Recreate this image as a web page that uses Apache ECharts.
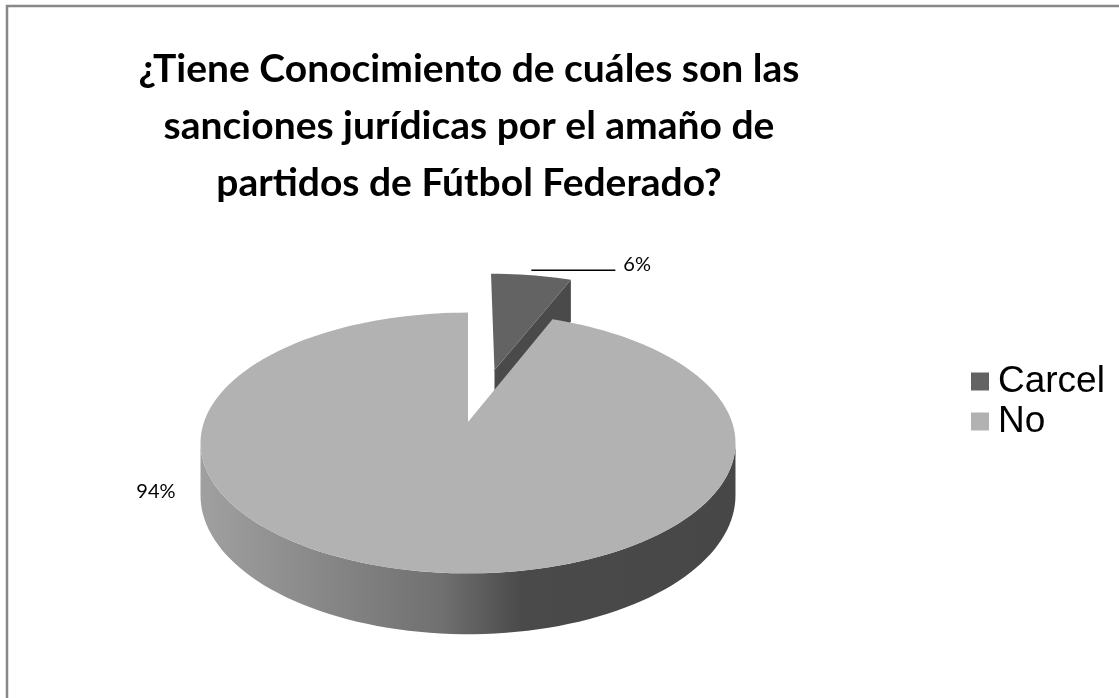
<!DOCTYPE html>
<html>
<head>
<meta charset="utf-8">
<script src="https://cdn.jsdelivr.net/npm/echarts@6/dist/echarts.min.js"></script>
<style>
  html, body { margin: 0; padding: 0; background: #fff; }
  #main { width: 1119px; height: 698px; }
</style>
</head>
<body>
<div id="main"></div>
<script>
// datos del grafico
const titleLines = [
  '¿Tiene Conocimiento de cuáles son las',
  'sanciones jurídicas por el amaño de',
  'partidos de Fútbol Federado?'
];
const categories = ['Carcel', 'No'];
const values = [6, 94];

// estilo
const topColors = ['#636363', '#b2b2b2'];
const sideColors = ['#4a4a4a', '#6e6e6e'];
const OX = 468, OY = 422;          // vertice del sector grande
const RX = 264, RY = 127, DEPTH = 51, K = 0.161;  // K: perspectiva
const explode = [0.45, 0];

const total = values.reduce((a, b) => a + b, 0);
const rad = d => d * Math.PI / 180;
// punto del plano (u, v) a pantalla, h = profundidad hacia abajo
function proj(u, v, h) {
  const w = 1 + K * v;
  return [OX + RX * u / w, OY - RY * v / w + (h || 0) / w];
}
const wallFrom = Math.acos(-K) * 180 / Math.PI;   // ~99°
const wallTo = 360 - wallFrom;

function sliceRenderer(idx) {
  return function (params, api) {
    let start = 0;
    for (let k = 0; k < idx; k++) start += values[k];
    const a0 = start / total * 360;
    const a1 = a0 + api.value(0) / total * 360;
    const mid = (a0 + a1) / 2;
    const du = explode[idx] * Math.sin(rad(mid + 3));
    const dv = explode[idx] * Math.cos(rad(mid + 3));
    const pt = (deg, h) => proj(du + Math.sin(rad(deg)), dv + Math.cos(rad(deg)), h);
    const arc = (from, to, h) => {
      const pts = [];
      const n = Math.max(2, Math.ceil(Math.abs(to - from) / 2));
      for (let j = 0; j <= n; j++) pts.push(pt(from + (to - from) * j / n, h));
      return pts;
    };
    const cTop = proj(du, dv, 0);
    const cBot = proj(du, dv, DEPTH);
    const children = [];

    // caras radiales
    const e = a1 % 360;
    if (e > 0 && e < 180) {
      children.push({
        type: 'polygon',
        shape: { points: [cTop, pt(a1, 0), pt(a1, DEPTH), cBot] },
        style: { fill: sideColors[idx] }
      });
    }
    if (a0 > 180 && a0 < 360) {
      children.push({
        type: 'polygon',
        shape: { points: [cTop, pt(a0, 0), pt(a0, DEPTH), cBot] },
        style: { fill: sideColors[idx] }
      });
    }
    // pared exterior frontal
    const f0 = Math.max(a0, wallFrom), f1 = Math.min(a1, wallTo);
    if (f1 > f0) {
      children.push({
        type: 'polygon',
        shape: { points: arc(f0, f1, 0).concat(arc(f1, f0, DEPTH)) },
        style: {
          fill: new echarts.graphic.LinearGradient(0, 0, 1, 0, [
            { offset: 0, color: '#a0a0a0' },
            { offset: 0.45, color: '#707070' },
            { offset: 0.6, color: '#4a4a4a' },
            { offset: 1, color: '#474747' }
          ])
        }
      });
    }
    // cara superior
    children.push({
      type: 'polygon',
      shape: { points: [cTop].concat(arc(a0, a1, 0)) },
      style: { fill: topColors[idx] }
    });

    // etiqueta
    const pct = Math.round(api.value(0) / total * 100) + '%';
    const labelFont = { fontFamily: 'Lato', fontSize: 20, fill: '#000' };
    if (api.value(0) / total < 0.15) {
      const m = pt(mid, 0);
      const ly = m[1] - 5, x2 = m[0] + 84;
      children.push({
        type: 'line',
        shape: { x1: m[0], y1: ly, x2: x2, y2: ly },
        style: { stroke: '#000', lineWidth: 1.5 }
      });
      children.push({
        type: 'text',
        x: x2 + 8, y: ly - 6,
        style: Object.assign({ text: pct, align: 'left', verticalAlign: 'middle' }, labelFont)
      });
    } else {
      const left = proj(du - Math.sqrt(1 - K * K), dv - K, 0);
      children.push({
        type: 'text',
        x: left[0] - 25, y: left[1] + 49,
        style: Object.assign({ text: pct, align: 'right', verticalAlign: 'middle' }, labelFont)
      });
    }
    return { type: 'group', children: children };
  };
}

const chart = echarts.init(document.getElementById('main'));

const option = {
  animation: false,
  title: {
    text: titleLines.join('\n'),
    left: 464,
    top: 36,
    textAlign: 'center',
    textStyle: {
      fontFamily: 'Lato',
      fontWeight: 'bold',
      fontSize: 39,
      lineHeight: 57,
      color: '#000'
    }
  },
  legend: {
    orient: 'vertical',
    left: 966,
    top: 358,
    icon: 'rect',
    itemWidth: 18,
    itemHeight: 18,
    itemGap: 3,
    data: categories,
    textStyle: {
      fontFamily: 'Liberation Sans',
      fontSize: 37,
      color: '#000',
      padding: [0, 0, 0, 4]
    }
  },
  graphic: [
    {
      type: 'rect',
      shape: { x: 7, y: 6, width: 1130, height: 710 },
      style: { fill: null, stroke: '#888', lineWidth: 2.5 },
      silent: true
    }
  ],
  series: categories.map((name, i) => ({
    name: name,
    type: 'custom',
    coordinateSystem: 'none',
    itemStyle: { color: topColors[i] },
    renderItem: sliceRenderer(i),
    data: [values[i]]
  }))
};

chart.setOption(option);
window.addEventListener('resize', () => chart.resize());
</script>
</body>
</html>
